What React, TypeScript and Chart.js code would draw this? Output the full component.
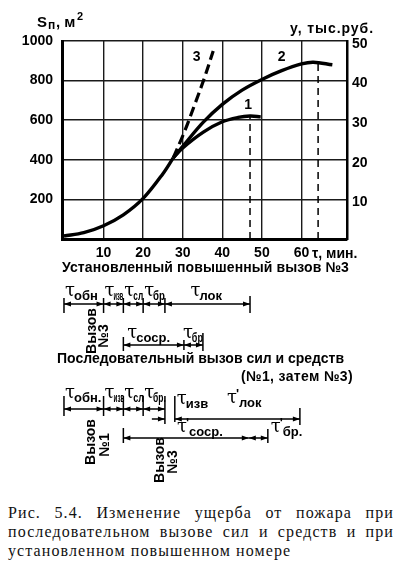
import React, { useEffect, useRef } from "react";
import { Chart, registerables } from "chart.js";

Chart.register(...registerables);

const W = 396;
const H = 490;

// Axis ticks
const xTickValues = [10, 20, 30, 40, 50, 60];
const xTickLabels = ["10", "20", "30", "40", "50", "60"];
const leftTickValues = [0, 200, 400, 600, 800, 1000];
const leftTickLabels = ["", "200", "400", "600", "800", "1000"];
const rightTickValues = [0, 10, 20, 30, 40, 50];
const rightTickLabels = ["", "10", "20", "30", "40", "50"];

// Curves: time, min -> burnt area, m²
const commonTime = [0, 5, 10, 15, 20, 25, 27.6];
const commonArea = [15, 32, 67, 122, 205, 330, 410];
const curve1Time = [27.6, 30, 35.2, 40, 44, 47, 49.7];
const curve1Area = [410, 460, 540, 592, 614, 621, 617];
const curve2Time = [27.6, 30, 35.2, 40, 45, 50, 55, 60, 63, 67.8];
const curve2Area = [410, 468, 590, 680, 752, 806, 850, 884, 893, 880];
const curve3Time = [27.6, 30.5, 33.1, 35.5, 37.7];
const curve3Area = [410, 545, 683, 815, 950];
const dropTime = [47, 64.2];
const dropArea = [621, 892];

// Time diagrams (min)
const row1Bounds = [0, 10, 15, 20, 25.5, 47];
const row1Subs = ["обн", "изв", "сл", "бр", "лок"];
const row2Bounds = [15, 30.3, 35.1];
const row2Subs = ["соср.", "бр"];
const row3Bounds = [0, 10, 15, 20, 25.5];
const row3Subs = ["обн.", "изв", "сл", "бр."];
const row3Extra = [22.2, 28, 59.6];
const row4Bounds = [15, 46.7, 51.5];

const SANS = '"Liberation Sans", Arial, sans-serif';

function pts(xs: number[], ys: number[]) {
  return xs.map((x, i) => ({ x, y: ys[i] }));
}

function arrowHead(ctx: CanvasRenderingContext2D, x: number, y: number, dir: number) {
  ctx.beginPath();
  ctx.moveTo(x, y);
  ctx.lineTo(x - dir * 7, y - 2.5);
  ctx.lineTo(x - dir * 7, y + 2.5);
  ctx.closePath();
  ctx.fill();
}

function hLine(ctx: CanvasRenderingContext2D, x1: number, x2: number, y: number) {
  ctx.beginPath();
  ctx.moveTo(x1, y);
  ctx.lineTo(x2, y);
  ctx.stroke();
}

function vLine(ctx: CanvasRenderingContext2D, x: number, y1: number, y2: number) {
  ctx.beginPath();
  ctx.moveTo(x, y1);
  ctx.lineTo(x, y2);
  ctx.stroke();
}

function dim(ctx: CanvasRenderingContext2D, x1: number, x2: number, y: number) {
  hLine(ctx, x1, x2, y);
  arrowHead(ctx, x1, y, -1);
  arrowHead(ctx, x2, y, 1);
}

function tau(
  ctx: CanvasRenderingContext2D,
  x: number,
  base: number,
  sub: string,
  prime: boolean,
  maxW?: number
) {
  ctx.save();
  ctx.textAlign = "left";
  ctx.textBaseline = "alphabetic";
  ctx.font = `18px "DejaVu Serif"`;
  ctx.fillText("τ", x, base);
  let cx = x + ctx.measureText("τ").width - 1;
  if (prime) {
    ctx.font = `bold 13px ${SANS}`;
    ctx.fillText("'", cx, base - 5);
    cx += 3;
  }
  ctx.font = `bold 13px ${SANS}`;
  const sw = ctx.measureText(sub).width;
  const avail = maxW !== undefined ? Math.max(6, maxW - (cx - x)) : sw;
  ctx.fillText(sub, cx, base + 4, Math.min(sw, avail));
  ctx.restore();
}

function fitText(
  ctx: CanvasRenderingContext2D,
  text: string,
  x1: number,
  x2: number,
  yMid: number,
  font: string
) {
  ctx.save();
  ctx.font = font;
  (ctx as any).letterSpacing = "0px";
  const w = ctx.measureText(text).width;
  const n = Array.from(text).length;
  const ls = (x2 - x1 - w) / n;
  (ctx as any).letterSpacing = `${ls}px`;
  ctx.textAlign = "left";
  ctx.textBaseline = "middle";
  ctx.fillText(text, x1, yMid);
  ctx.restore();
}

function vText(ctx: CanvasRenderingContext2D, text: string, x: number, yMid: number) {
  ctx.save();
  ctx.translate(x, yMid);
  ctx.rotate(-Math.PI / 2);
  ctx.font = `bold 14px ${SANS}`;
  ctx.textAlign = "center";
  ctx.textBaseline = "middle";
  ctx.fillText(text, 0, 0);
  ctx.restore();
}

const annotations = {
  id: "annotations",
  afterDraw(chart: any) {
    const ctx: CanvasRenderingContext2D = chart.ctx;
    const px = (v: number) => chart.scales.x.getPixelForValue(v);
    const py = (v: number) => chart.scales.y.getPixelForValue(v);
    ctx.save();
    ctx.fillStyle = "#000";
    ctx.strokeStyle = "#000";

    // Axis names
    ctx.textBaseline = "alphabetic";
    ctx.textAlign = "left";
    ctx.font = `bold 15px ${SANS}`;
    ctx.fillText("S", 37, 27);
    ctx.font = `bold 12px ${SANS}`;
    ctx.fillText("п", 48, 29);
    ctx.font = `bold 15px ${SANS}`;
    ctx.fillText(", м", 56, 27);
    ctx.font = `bold 11px ${SANS}`;
    ctx.fillText("2", 77, 20);
    fitText(ctx, "у, тыс.руб.", 290, 374, 29, `bold 14px ${SANS}`);

    // Curve numbers
    ctx.font = `bold 14px ${SANS}`;
    ctx.textAlign = "center";
    ctx.textBaseline = "middle";
    ctx.fillText("1", px(46.5), py(675));
    ctx.fillText("2", px(55), py(920));
    ctx.fillText("3", px(33.5), py(920));

    // time unit and x title
    ctx.textAlign = "left";
    ctx.font = `bold 14px ${SANS}`;
    ctx.fillText("τ, мин.", 312, 254);
    fitText(ctx, "Установленный повышенный вызов №3", 62, 349, 268, `bold 14px ${SANS}`);

    ctx.lineWidth = 1.5;
    // Row 1
    const y1 = 304;
    for (let i = 0; i < row1Bounds.length - 1; i++) {
      dim(ctx, px(row1Bounds[i]), px(row1Bounds[i + 1]), y1);
    }
    row1Bounds.forEach((b, i) => {
      const last = i === row1Bounds.length - 1;
      vLine(ctx, px(b), last ? 296 : 298, 313);
    });
    for (let i = 0; i < row1Subs.length; i++) {
      const a = px(row1Bounds[i]);
      const b = px(row1Bounds[i + 1]);
      if (i === row1Subs.length - 1) tau(ctx, (a + b) / 2 - 17, 296, row1Subs[i], false);
      else tau(ctx, a + 1, 296, row1Subs[i], false, b - a - 1);
    }
    vText(ctx, "Вызов", 92, 331);
    vText(ctx, "№3", 104, 336);

    // Row 2
    const y2 = 345;
    dim(ctx, px(row2Bounds[0]), px(row2Bounds[1]), y2);
    dim(ctx, px(row2Bounds[1]), px(row2Bounds[2]), y2);
    vLine(ctx, px(row2Bounds[0]), 337, 351);
    vLine(ctx, px(row2Bounds[1]), 340, 350);
    vLine(ctx, px(row2Bounds[2]), 333, 351);
    tau(ctx, px(row2Bounds[0]) + 4, 338, row2Subs[0], false);
    tau(ctx, px(row2Bounds[1]) - 1, 338, row2Subs[1], false, px(row2Bounds[2]) - px(row2Bounds[1]) + 1);

    fitText(ctx, "Последовательный вызов сил и средств", 57, 344, 359, `bold 14px ${SANS}`);
    fitText(ctx, "(№1, затем №3)", 241, 353, 377, `bold 14px ${SANS}`);

    // Row 3
    const y3 = 409;
    for (let i = 0; i < row3Bounds.length - 1; i++) {
      dim(ctx, px(row3Bounds[i]), px(row3Bounds[i + 1]), y3);
    }
    row3Bounds.forEach((b, i) => {
      const last = i === row3Bounds.length - 1;
      vLine(ctx, px(b), 396, last ? 424 : 416);
    });
    for (let i = 0; i < row3Subs.length; i++) {
      const a = px(row3Bounds[i]);
      const b = px(row3Bounds[i + 1]);
      tau(ctx, a + 1, 398, row3Subs[i], false, i === 0 ? undefined : b - a);
    }
    const yL = 419;
    hLine(ctx, px(row3Extra[0]), px(row3Bounds[4]), yL);
    arrowHead(ctx, px(row3Bounds[4]), yL, 1);
    hLine(ctx, px(row3Extra[1]), px(row3Extra[2]), yL);
    arrowHead(ctx, px(row3Extra[1]), yL, -1);
    arrowHead(ctx, px(row3Extra[2]), yL, 1);
    vLine(ctx, px(row3Extra[1]), 396, 422);
    vLine(ctx, px(row3Extra[2]), 408, 425);
    tau(ctx, px(row3Extra[1]) + 2, 404, "изв", false);
    tau(ctx, 227, 403, "лок", true);

    // Row 4
    const y4 = 438;
    dim(ctx, px(row4Bounds[0]), px(row4Bounds[1]), y4);
    dim(ctx, px(row4Bounds[1]), px(row4Bounds[2]), y4);
    vLine(ctx, px(row4Bounds[0]), 428, 443);
    vLine(ctx, px(row4Bounds[2]), 429, 443);
    tau(ctx, 177, 432, "соср.", true);
    tau(ctx, px(row4Bounds[2]) + 3, 432, "бр.", true);

    vText(ctx, "Вызов", 91, 442);
    vText(ctx, "№1", 105, 445);
    vText(ctx, "Вызов", 160, 460);
    vText(ctx, "№3", 173, 462);

    ctx.restore();
  },
};

function ChartCanvas() {
  const ref = useRef<HTMLCanvasElement | null>(null);
  useEffect(() => {
    if (!ref.current) return;
    const line = (xs: number[], ys: number[], extra: any = {}) => ({
      type: "line",
      data: pts(xs, ys),
      borderColor: "#000",
      borderWidth: 3.4,
      pointRadius: 0,
      fill: false,
      tension: 0.35,
      xAxisID: "x",
      yAxisID: "y",
      ...extra,
    });
    const chart = new Chart(ref.current, {
      type: "line",
      data: {
        datasets: [
          line(commonTime, commonArea),
          line(curve1Time, curve1Area),
          line(curve2Time, curve2Area),
          line(curve3Time, curve3Area, { borderDash: [10, 5], borderWidth: 3.2 }),
          line([dropTime[0], dropTime[0]], [0, dropArea[0]], { borderWidth: 1.5, borderDash: [7, 5], tension: 0 }),
          line([dropTime[1], dropTime[1]], [0, dropArea[1]], { borderWidth: 1.5, borderDash: [7, 5], tension: 0 }),
        ] as any,
      },
      options: {
        responsive: false,
        maintainAspectRatio: false,
        animation: false,
        layout: { padding: { top: 41, left: 0, right: 0, bottom: 0 } },
        plugins: { legend: { display: false }, tooltip: { enabled: false } },
        scales: {
          x: {
            type: "linear",
            position: "bottom",
            min: -0.5,
            max: 71.5,
            afterBuildTicks: (s: any) => {
              s.ticks = xTickValues.map((v) => ({ value: v }));
            },
            afterFit: (s: any) => {
              s.height = H - 239;
            },
            ticks: {
              callback: (_v: any, i: number) => xTickLabels[i],
              color: "#000",
              font: { family: SANS, size: 14, weight: "bold" },
              padding: 6,
              maxRotation: 0,
              autoSkip: false,
            },
            grid: { color: "#1a1a1a", lineWidth: 1.4, drawTicks: false },
            border: { display: true, color: "#000", width: 3 },
          },
          y: {
            type: "linear",
            position: "left",
            min: 0,
            max: 1000,
            afterBuildTicks: (s: any) => {
              s.ticks = leftTickValues.map((v) => ({ value: v }));
            },
            afterFit: (s: any) => {
              s.width = 62;
            },
            ticks: {
              callback: (_v: any, i: number) => leftTickLabels[i],
              color: "#000",
              font: { family: SANS, size: 14, weight: "bold" },
              padding: 9,
            },
            grid: { color: "#1a1a1a", lineWidth: 1.6, drawTicks: false },
            border: { display: true, color: "#000", width: 3 },
          },
          y2: {
            type: "linear",
            position: "right",
            min: 0,
            max: 50,
            afterBuildTicks: (s: any) => {
              s.ticks = rightTickValues.map((v) => ({ value: v }));
            },
            afterFit: (s: any) => {
              s.width = W - 347;
            },
            ticks: {
              callback: (_v: any, i: number) => rightTickLabels[i],
              color: "#000",
              font: { family: SANS, size: 14, weight: "bold" },
              padding: 5,
              labelOffset: 3,
            },
            grid: { display: false, drawTicks: false },
            border: { display: true, color: "#000", width: 2.5 },
          },
        },
      } as any,
      plugins: [annotations],
    });
    return () => chart.destroy();
  }, []);
  return <canvas ref={ref} width={W} height={H} style={{ display: "block", width: W, height: H }} />;
}

export default function App() {
  const capLine: React.CSSProperties = {
    whiteSpace: "nowrap",
    height: 19,
    lineHeight: "19px",
  };
  return (
    <div style={{ position: "absolute", left: 0, top: 0, width: W, height: 572, background: "#fff", overflow: "hidden" }}>
      <ChartCanvas />
      <div
        style={{
          position: "absolute",
          left: 8,
          top: 503,
          width: 386,
          fontFamily: '"Liberation Serif", "Times New Roman", serif',
          fontSize: 16,
          letterSpacing: 1.1,
          color: "#111",
        }}
      >
        <div style={{ ...capLine, textAlign: "justify", textAlignLast: "justify" }}>Рис. 5.4. Изменение ущерба от пожара при</div>
        <div style={{ ...capLine, textAlign: "justify", textAlignLast: "justify" }}>последовательном вызове сил и средств и при</div>
        <div style={capLine}>установленном повышенном номере</div>
      </div>
    </div>
  );
}
